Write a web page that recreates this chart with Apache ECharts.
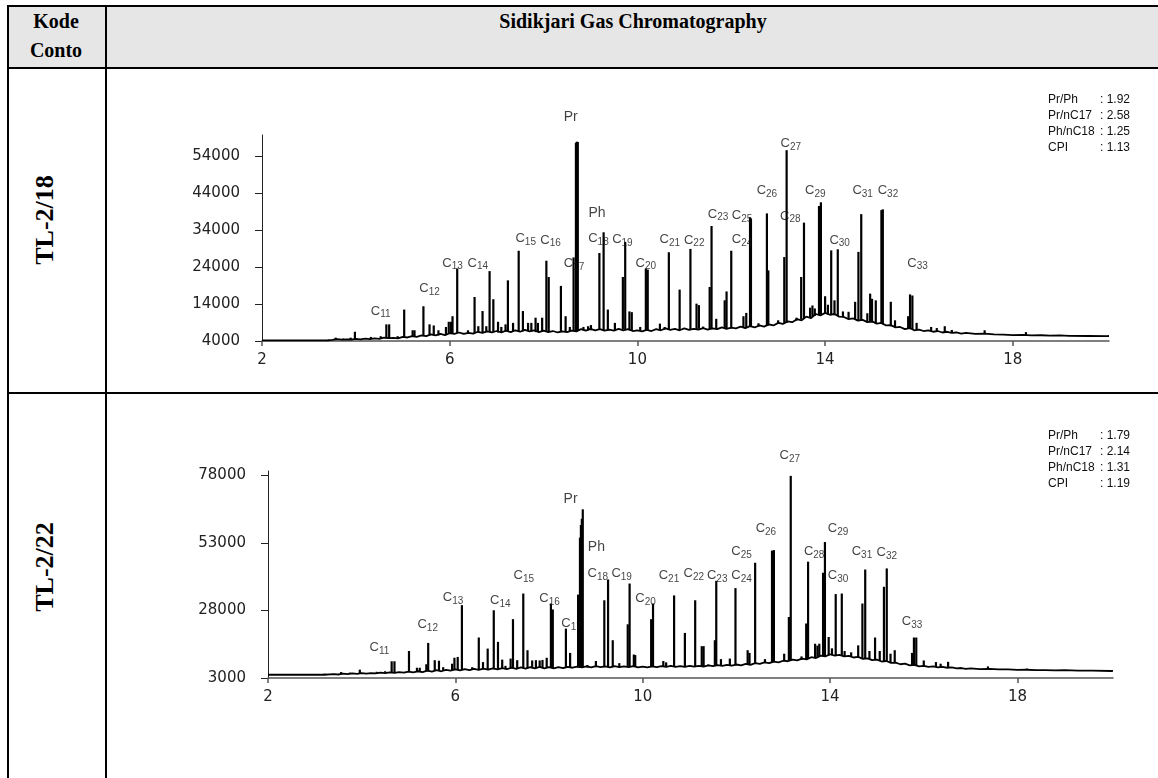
<!DOCTYPE html>
<html>
<head>
<meta charset="utf-8">
<script src="https://cdn.jsdelivr.net/npm/echarts@6/dist/echarts.min.js"></script>
<style>
body{margin:0;background:#fff;}
#page{position:relative;width:1158px;height:778px;overflow:hidden;font-family:'Liberation Serif',serif;}
.ln{position:absolute;background:#000;}
.hd{position:absolute;font-weight:bold;font-size:20px;color:#000;transform:translate(-50%,-50%);white-space:nowrap;}
.rw{position:absolute;font-weight:bold;font-size:26px;color:#000;transform:translate(-50%,-50%) rotate(-90deg);white-space:nowrap;}
#chart{position:absolute;left:0;top:0;width:1158px;height:778px;}
</style>
</head>
<body>
<div id="page">
  <div style="position:absolute;left:8px;top:6px;width:1150px;height:62px;background:#e6e6e6"></div>
  <div class="ln" style="left:7px;top:5px;width:1151px;height:2px"></div>
  <div class="ln" style="left:7px;top:67px;width:1151px;height:2px"></div>
  <div class="ln" style="left:7px;top:392px;width:1151px;height:2px"></div>
  <div class="ln" style="left:7px;top:5px;width:2px;height:773px"></div>
  <div class="ln" style="left:105px;top:5px;width:2px;height:773px"></div>
  <div class="hd" style="left:56px;top:21px">Kode</div>
  <div class="hd" style="left:56px;top:50px">Conto</div>
  <div class="hd" style="left:633px;top:21px">Sidikjari Gas Chromatography</div>
  <div class="rw" style="left:45px;top:220px">TL-2/18</div>
  <div class="rw" style="left:45px;top:567px">TL-2/22</div>
  <div id="chart"></div>
</div>
<script>
// retention time ticks and intensity ticks
const tickX = [2, 6, 10, 14, 18];
const tickY1 = [4000, 14000, 24000, 34000, 44000, 54000];
const tickY2 = [3000, 28000, 53000, 78000];

// TL-2/18 baseline trace [time, intensity]
const base1 = [
  [2.0, 4180], [2.5, 4180], [3.0, 4190], [3.4, 4200], [3.5, 4300], [3.6, 4500], [3.7, 4350], [3.8, 4450],
  [3.9, 4400], [4.0, 4600], [4.1, 4450], [4.2, 4650], [4.3, 4500], [4.4, 4700], [4.5, 4600], [4.6, 4900],
  [4.7, 4750], [4.8, 4850], [4.9, 4700], [5.0, 5100], [5.1, 4950], [5.2, 5300], [5.3, 5100], [5.4, 5500],
  [5.5, 5300], [5.6, 5800], [5.7, 5500], [5.8, 5900], [5.9, 5600], [6.0, 6100], [6.1, 5900], [6.2, 6300],
  [6.3, 5900], [6.4, 6200], [6.5, 6000], [6.6, 6500], [6.7, 6200], [6.8, 6600], [6.9, 6300], [7.0, 6700],
  [7.1, 6300], [7.2, 6800], [7.3, 6400], [7.4, 6900], [7.5, 6500], [7.6, 7000], [7.7, 6600], [7.8, 6900],
  [7.9, 6400], [8.0, 6800], [8.1, 6400], [8.2, 6700], [8.3, 6300], [8.4, 6600], [8.5, 6400], [8.6, 6800],
  [8.7, 6600], [8.8, 7200], [8.9, 6800], [9.0, 7300], [9.1, 6900], [9.2, 7200], [9.3, 6800], [9.4, 7100],
  [9.5, 6800], [9.6, 7300], [9.7, 6900], [9.8, 7200], [9.9, 6700], [10.0, 6900], [10.1, 6600], [10.2, 7000],
  [10.3, 6700], [10.4, 7200], [10.5, 6900], [10.6, 7400], [10.7, 7000], [10.8, 7300], [10.9, 6900], [11.0, 7400],
  [11.1, 7000], [11.2, 7300], [11.3, 7100], [11.4, 7500], [11.5, 7100], [11.6, 7400], [11.7, 7200], [11.8, 7700],
  [11.9, 7300], [12.0, 7600], [12.1, 7400], [12.2, 7900], [12.3, 7500], [12.4, 8000], [12.5, 7700], [12.6, 8200],
  [12.7, 7900], [12.8, 8500], [12.9, 8200], [13.0, 8900], [13.1, 8600], [13.2, 9300], [13.3, 9100], [13.4, 9900],
  [13.5, 9600], [13.6, 10600], [13.7, 10200], [13.8, 11300], [13.9, 10900], [14.0, 11600], [14.1, 11100], [14.2, 11300],
  [14.3, 10600], [14.4, 10500], [14.5, 9900], [14.6, 10100], [14.7, 9500], [14.8, 9700], [14.9, 9100], [15.0, 9300],
  [15.1, 8700], [15.2, 8900], [15.3, 8200], [15.4, 8300], [15.5, 7700], [15.6, 7800], [15.7, 7200], [15.8, 7500],
  [15.9, 6900], [16.0, 7100], [16.1, 6700], [16.2, 6900], [16.3, 6500], [16.4, 6700], [16.5, 6300], [16.6, 6500],
  [16.7, 6200], [16.8, 6300], [16.9, 6000], [17.0, 6200], [17.2, 5900], [17.4, 6000], [17.6, 5800], [17.8, 5750],
  [18.0, 5600], [18.2, 5650], [18.4, 5500], [18.6, 5550], [18.8, 5450], [19.0, 5500], [19.2, 5400], [19.6, 5350],
  [20.0, 5300], [20.05, 5350]
];
// TL-2/18 peaks [time, foot, top]
const peaks1 = [
  [3.57, 4400, 4900], [3.73, 4400, 4650], [3.89, 4400, 4900], [3.98, 4500, 6500], [4.32, 4600, 5100],
  [4.53, 4600, 5300], [4.65, 4700, 8500], [4.71, 4700, 8500], [4.89, 4800, 5300], [5.03, 5000, 12500],
  [5.21, 5100, 6900], [5.25, 5100, 6900], [5.44, 5300, 13400], [5.57, 5500, 8500], [5.66, 5500, 8200],
  [5.76, 5500, 6900], [5.92, 5800, 7800], [5.98, 5900, 9200], [6.03, 5900, 9200], [6.06, 6000, 10700],
  [6.16, 6100, 23600], [6.39, 6000, 6900], [6.53, 6200, 15900], [6.61, 6300, 8000], [6.70, 6400, 12100],
  [6.78, 6400, 8000], [6.85, 6400, 22900], [6.93, 6400, 15300], [7.03, 6300, 9200], [7.10, 6400, 7800],
  [7.19, 6500, 8500], [7.24, 6600, 20400], [7.35, 6500, 8900], [7.47, 6500, 28400], [7.56, 6600, 12100],
  [7.67, 6700, 8900], [7.74, 6600, 8900], [7.83, 6400, 10300], [7.88, 6500, 8900], [7.97, 6500, 10300],
  [8.06, 6600, 25700], [8.11, 6500, 21300], [8.37, 6400, 18900], [8.47, 6500, 10700], [8.56, 6600, 7800],
  [8.64, 6700, 26600], [8.69, 6700, 57600], [8.71, 6700, 57900], [8.73, 6700, 57800], [8.85, 6900, 7800],
  [8.95, 6900, 8000], [9.01, 6900, 8300], [9.19, 7000, 27800], [9.28, 6900, 33400], [9.37, 6800, 12500],
  [9.52, 7000, 8900], [9.69, 7100, 21300], [9.74, 7100, 30800], [9.83, 6900, 12000], [9.88, 6900, 11800],
  [10.06, 6800, 7800], [10.18, 6900, 23600], [10.22, 6900, 23300], [10.48, 7000, 8700], [10.58, 7100, 7800],
  [10.67, 7200, 28000], [10.90, 7000, 17900], [11.13, 7200, 28900], [11.26, 7200, 14100], [11.31, 7300, 13700],
  [11.40, 7300, 7900], [11.54, 7200, 18600], [11.58, 7200, 35100], [11.68, 7300, 10000], [11.86, 7500, 15000],
  [11.90, 7500, 17400], [12.00, 7400, 28400], [12.26, 7600, 10700], [12.32, 7700, 11600], [12.40, 7800, 37400],
  [12.42, 7800, 37000], [12.58, 7900, 8800], [12.76, 8100, 38500], [12.79, 8200, 23100], [13.00, 8600, 9600],
  [13.06, 8700, 8900], [13.13, 8900, 26700], [13.18, 8900, 55600], [13.39, 9500, 10300], [13.49, 9900, 21300],
  [13.55, 10100, 36000], [13.68, 10500, 13000], [13.73, 10600, 13600], [13.78, 10800, 12800], [13.87, 11000, 40500],
  [13.91, 11100, 41500], [14.00, 11300, 16100], [14.06, 11200, 13800], [14.13, 11100, 28500], [14.20, 11000, 15000],
  [14.27, 10800, 28800], [14.38, 10400, 12000], [14.50, 10000, 11900], [14.64, 9700, 14600], [14.71, 9600, 28100],
  [14.77, 9500, 38300], [14.90, 9200, 11500], [14.96, 9000, 16800], [15.00, 9000, 15400], [15.08, 8800, 15000],
  [15.20, 8600, 39400], [15.23, 8500, 39600], [15.40, 8000, 14600], [15.49, 7800, 9600], [15.77, 7300, 10700],
  [15.81, 7300, 16600], [15.86, 7200, 16300], [15.95, 7000, 8900], [16.26, 6700, 7800], [16.38, 6600, 7500],
  [16.55, 6400, 8000], [16.70, 6300, 7000], [17.40, 5900, 6900], [18.28, 5500, 6400]
];

// TL-2/22 baseline trace
const base2 = [
  [2.0, 4200], [2.6, 4200], [3.2, 4200], [3.4, 4400], [3.5, 4300], [3.6, 4600], [3.7, 4400], [3.8, 4700],
  [3.9, 4500], [4.0, 4800], [4.1, 4600], [4.2, 4800], [4.3, 4700], [4.4, 5000], [4.5, 4800], [4.6, 5100],
  [4.7, 4900], [4.8, 5200], [4.9, 5000], [5.0, 5400], [5.1, 5100], [5.2, 5500], [5.3, 5200], [5.4, 5700],
  [5.5, 5400], [5.6, 5900], [5.7, 5500], [5.8, 6000], [5.9, 5700], [6.0, 6200], [6.1, 5800], [6.2, 6300],
  [6.3, 5900], [6.4, 6400], [6.5, 6000], [6.6, 6500], [6.7, 6100], [6.8, 6600], [6.9, 6200], [7.0, 6700],
  [7.1, 6300], [7.2, 6800], [7.3, 6400], [7.4, 6900], [7.5, 6500], [7.6, 7000], [7.7, 6600], [7.8, 7100],
  [7.9, 6600], [8.0, 7000], [8.1, 6600], [8.2, 7000], [8.3, 6700], [8.4, 7100], [8.5, 6800], [8.6, 7200],
  [8.7, 6900], [8.8, 7300], [8.9, 6900], [9.0, 7400], [9.1, 7000], [9.2, 7300], [9.3, 6900], [9.4, 7400],
  [9.5, 7000], [9.6, 7300], [9.7, 7000], [9.8, 7400], [9.9, 6900], [10.0, 7200], [10.1, 6900], [10.2, 7300],
  [10.3, 7000], [10.4, 7400], [10.5, 7100], [10.6, 7500], [10.7, 7100], [10.8, 7400], [10.9, 7100], [11.0, 7500],
  [11.1, 7200], [11.2, 7500], [11.3, 7200], [11.4, 7700], [11.5, 7400], [11.6, 7800], [11.7, 7500], [11.8, 7900],
  [11.9, 7600], [12.0, 8000], [12.1, 7700], [12.2, 8200], [12.3, 7900], [12.4, 8500], [12.5, 8200], [12.6, 8800],
  [12.7, 8500], [12.8, 9100], [12.9, 8800], [13.0, 9400], [13.1, 9200], [13.2, 9800], [13.3, 9500], [13.4, 10200],
  [13.5, 9900], [13.6, 10700], [13.7, 10400], [13.8, 11300], [13.9, 11000], [14.0, 11800], [14.1, 11300], [14.2, 11600],
  [14.3, 11000], [14.4, 11200], [14.5, 10600], [14.6, 10800], [14.7, 10100], [14.8, 10300], [14.9, 9600], [15.0, 9800],
  [15.1, 9100], [15.2, 9300], [15.3, 8600], [15.4, 8700], [15.5, 8100], [15.6, 8300], [15.7, 7700], [15.8, 7900],
  [15.9, 7300], [16.0, 7500], [16.1, 7100], [16.2, 7300], [16.3, 6900], [16.4, 7100], [16.5, 6800], [16.6, 6900],
  [16.7, 6600], [16.8, 6700], [16.9, 6400], [17.0, 6600], [17.2, 6300], [17.4, 6400], [17.6, 6200], [17.8, 6200],
  [18.0, 6000], [18.2, 6050], [18.4, 5950], [18.6, 5950], [18.8, 5850], [19.0, 5900], [19.3, 5750], [19.6, 5700],
  [20.0, 5600], [20.04, 5650]
];
// TL-2/22 peaks [time, foot, top]
const peaks2 = [
  [3.21, 4200, 4600], [3.56, 4400, 5200], [3.75, 4500, 5000], [3.96, 4700, 6100], [4.32, 4900, 5300],
  [4.50, 5000, 5500], [4.64, 5000, 9200], [4.70, 5000, 9200], [5.01, 5200, 13000], [5.18, 5300, 6800],
  [5.24, 5300, 6800], [5.38, 5500, 8100], [5.42, 5500, 16000], [5.56, 5700, 9600], [5.65, 5700, 9400],
  [5.74, 5800, 7000], [5.93, 5900, 8300], [5.98, 6000, 10500], [6.05, 6000, 10800], [6.14, 6000, 30000],
  [6.36, 6100, 7000], [6.50, 6200, 18000], [6.59, 6200, 8900], [6.69, 6300, 13900], [6.82, 6300, 28100],
  [6.91, 6400, 16400], [7.00, 6400, 9800], [7.07, 6400, 7500], [7.18, 6500, 10200], [7.23, 6500, 24800],
  [7.32, 6500, 9600], [7.45, 6600, 34300], [7.54, 6600, 13300], [7.64, 6600, 9500], [7.72, 6600, 9600],
  [7.80, 6700, 9500], [7.86, 6700, 9700], [7.95, 6700, 10500], [8.04, 6700, 30600], [8.08, 6700, 28400],
  [8.36, 6800, 21300], [8.45, 6800, 12300], [8.62, 6900, 33900], [8.66, 6900, 55000], [8.68, 6900, 59700],
  [8.70, 6900, 62000], [8.72, 6900, 65500], [8.82, 6900, 7800], [9.00, 7000, 9300], [9.18, 7000, 31800],
  [9.26, 7000, 39500], [9.36, 7000, 17000], [9.50, 7100, 8500], [9.68, 7100, 22900], [9.72, 7100, 38000],
  [9.81, 7100, 11700], [9.84, 7100, 11500], [10.18, 7100, 24800], [10.22, 7100, 30600], [10.44, 7200, 9300],
  [10.50, 7200, 8800], [10.67, 7200, 33600], [10.90, 7300, 19700], [11.12, 7300, 31800], [11.26, 7300, 14800],
  [11.30, 7300, 14800], [11.40, 7400, 8000], [11.54, 7500, 17000], [11.57, 7500, 39000], [11.67, 7500, 10000],
  [11.86, 7600, 10200], [11.98, 7700, 36300], [12.24, 8000, 13300], [12.28, 8100, 12300], [12.40, 8300, 45700],
  [12.61, 8600, 10000], [12.76, 8900, 50200], [12.80, 9000, 50400], [13.02, 9200, 12000], [13.12, 9400, 25600],
  [13.16, 9500, 77900], [13.39, 9800, 11000], [13.49, 10000, 23200], [13.53, 10100, 46100], [13.68, 10500, 15700],
  [13.73, 10600, 15000], [13.77, 10800, 15700], [13.85, 11000, 42000], [13.89, 11100, 53400], [13.97, 11300, 18200],
  [14.04, 11400, 14000], [14.12, 11300, 34100], [14.25, 11200, 34300], [14.31, 11100, 13000], [14.45, 10800, 12500],
  [14.60, 10500, 15100], [14.69, 10300, 30600], [14.75, 10200, 43200], [14.84, 10000, 13000], [14.96, 9700, 18000],
  [15.06, 9400, 13000], [15.15, 9200, 36800], [15.21, 9000, 43600], [15.29, 8800, 12000], [15.38, 8600, 13300],
  [15.75, 7800, 12300], [15.79, 7800, 18000], [15.84, 7700, 18000], [16.00, 7400, 9500], [16.26, 7100, 8900],
  [16.36, 7000, 8300], [16.52, 6900, 9000], [17.37, 6300, 7300], [18.20, 6000, 6500]
];

// peak labels and where they sit [time, intensity]
const peakNames = ['C11', 'C12', 'C13', 'C14', 'C15', 'C16', 'C17', 'C18', 'C19', 'C20', 'C21', 'C22',
  'C23', 'C24', 'C25', 'C26', 'C27', 'C28', 'C29', 'C30', 'C31', 'C32', 'C33', 'Pr', 'Ph'];
const labelPos1 = [[4.53, 12100], [5.57, 18200], [6.06, 25100], [6.60, 25100], [7.62, 31700], [8.15, 31300],
  [8.65, 24900], [9.17, 31700], [9.68, 31400], [10.18, 25100], [10.69, 31400], [11.21, 31300], [11.72, 38300],
  [12.23, 31400], [12.23, 38000], [12.76, 44600], [13.27, 57400], [13.26, 37800], [13.79, 44600], [14.31, 31300],
  [14.80, 44600], [15.34, 44600], [15.97, 25100], [8.58, 64500], [9.14, 38500]];
const labelPos2 = [[4.38, 14300], [5.41, 22800], [5.95, 32800], [6.96, 31800], [7.46, 40900], [8.01, 32500],
  [8.48, 23200], [9.04, 41700], [9.55, 41700], [10.06, 32500], [10.56, 40900], [11.09, 41700], [11.59, 40900],
  [12.11, 40900], [12.11, 49800], [12.63, 58400], [13.14, 85400], [13.66, 49800], [14.17, 58400], [14.17, 40900],
  [14.68, 49800], [15.21, 49400], [15.75, 23800], [8.46, 69200], [9.01, 51400]];

const ratioNames = ['Pr/Ph', 'Pr/nC17', 'Ph/nC18', 'CPI'];
const ratios1 = ['1.92', '2.58', '1.25', '1.13'];
const ratios2 = ['1.79', '2.14', '1.31', '1.19'];

const axisFont = { fontFamily: 'DejaVu Sans', fontSize: 15, color: '#222' };

function xAxisFor(i, max) {
  return {
    type: 'value', gridIndex: i, min: 2, max: max,
    axisLine: { onZero: false, lineStyle: { color: '#555', width: 1.5 } },
    axisTick: { customValues: tickX, length: 5, lineStyle: { color: '#555', width: 1.5 } },
    axisLabel: Object.assign({ customValues: tickX, margin: 12, formatter: v => String(v) }, axisFont),
    splitLine: { show: false }
  };
}
function yAxisFor(i, min, max, ticks) {
  return {
    type: 'value', gridIndex: i, min: min, max: max,
    axisLine: { show: true, onZero: false, lineStyle: { color: '#222', width: 1 } },
    axisTick: { show: true, customValues: ticks, length: 7, lineStyle: { color: '#222' } },
    axisLabel: Object.assign({ customValues: ticks, margin: 22, formatter: v => String(v) }, axisFont),
    splitLine: { show: false }
  };
}

function traceSeries(i, data) {
  return {
    type: 'line', xAxisIndex: i, yAxisIndex: i, data: data, showSymbol: false,
    lineStyle: { color: '#000', width: 1.8 }, z: 2
  };
}
function peakSeries(i, data) {
  return {
    type: 'custom', xAxisIndex: i, yAxisIndex: i, data: data,
    encode: { x: 0, y: 2 },
    renderItem: function (params, api) {
      const top = api.coord([api.value(0), api.value(2)]);
      const foot = api.coord([api.value(0), api.value(1)]);
      return {
        type: 'line',
        shape: { x1: top[0], y1: top[1], x2: foot[0], y2: foot[1] },
        style: { stroke: '#000', lineWidth: 2.2 }
      };
    },
    z: 3
  };
}
function labelSeries(i, pos) {
  return {
    type: 'scatter', xAxisIndex: i, yAxisIndex: i, silent: true, clip: false,
    symbolSize: 1, itemStyle: { color: 'rgba(0,0,0,0)' },
    data: peakNames.map((n, k) => ({ name: n, value: pos[k] })),
    label: {
      show: true, position: 'inside',
      formatter: p => p.name[0] === 'C' ? '{c|C}{s|' + p.name.slice(1) + '}' : '{p|' + p.name + '}',
      rich: {
        c: { fontFamily: 'Liberation Sans', fontSize: 13, color: '#111' },
        s: { fontFamily: 'Liberation Sans', fontSize: 10, color: '#111', padding: [7, 0, 0, 0] },
        p: { fontFamily: 'Liberation Sans', fontSize: 14, color: '#111' }
      }
    },
    z: 4
  };
}
function ratioText(top, values) {
  const out = [];
  ratioNames.forEach((n, k) => {
    out.push({ type: 'text', left: 1048, top: top + k * 16,
      style: { text: n, font: '12px "Liberation Sans"', fill: '#111' } });
    out.push({ type: 'text', left: 1100, top: top + k * 16,
      style: { text: ': ' + values[k], font: '12px "Liberation Sans"', fill: '#111' } });
  });
  return out;
}

const chart = echarts.init(document.getElementById('chart'));
chart.setOption({
  animation: false,
  grid: [
    { left: 262, top: 135, width: 847, height: 206 },
    { left: 268, top: 471, width: 845, height: 207 }
  ],
  xAxis: [xAxisFor(0, 20.05), xAxisFor(1, 20.04)],
  yAxis: [yAxisFor(0, 4000, 59700, tickY1), yAxisFor(1, 3000, 79700, tickY2)],
  series: [
    traceSeries(0, base1), peakSeries(0, peaks1), labelSeries(0, labelPos1),
    traceSeries(1, base2), peakSeries(1, peaks2), labelSeries(1, labelPos2)
  ],
  graphic: ratioText(94, ratios1).concat(ratioText(430, ratios2))
});
</script>
</body>
</html>
